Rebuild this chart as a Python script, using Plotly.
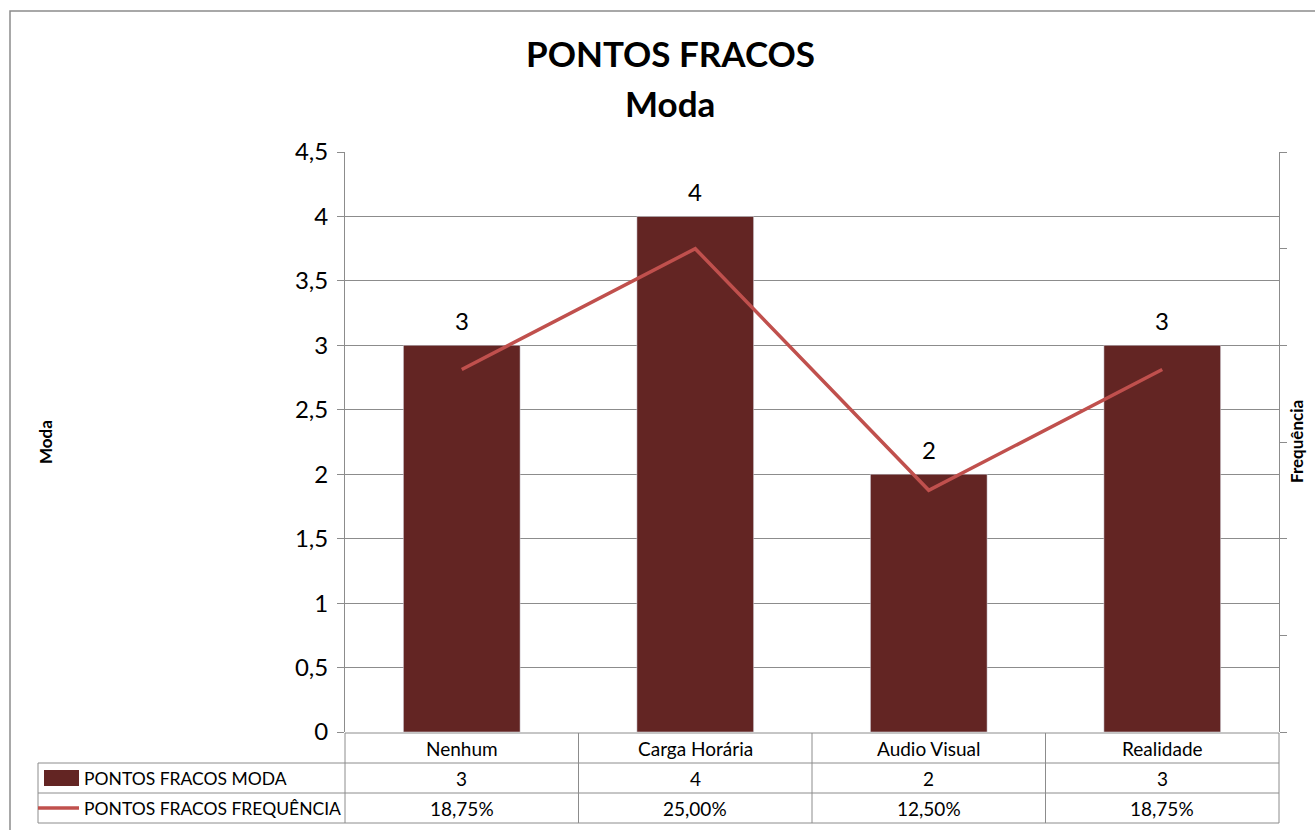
import plotly.graph_objects as go

categories = ["Nenhum", "Carga Horária", "Audio Visual", "Realidade"]
moda = [3, 4, 2, 3]
frequencia = [0.1875, 0.25, 0.125, 0.1875]
freq_labels = ["18,75%", "25,00%", "12,50%", "18,75%"]
series_names = ["PONTOS FRACOS MODA", "PONTOS FRACOS FREQUÊNCIA"]

W, H = 1315, 830
FONT = "Lato"
BAR_C = "#632523"
LINE_C = "#C0504D"
GRID_C = "#8C8C8C"

def px(x):
    return x / W

def py(y):
    return 1 - y / H

X0, X1 = 345, 1279
Y0, Y1 = 152, 732

fig = go.Figure()
fig.add_trace(go.Bar(x=categories, y=moda, marker_color=BAR_C, width=0.5,
                     name=series_names[0], showlegend=False, hoverinfo="skip"))
fig.add_trace(go.Scatter(x=categories, y=frequencia, mode="lines", yaxis="y2",
                         line=dict(color=LINE_C, width=3.5), name=series_names[1],
                         showlegend=False, hoverinfo="skip"))

shapes = []
def line(x0, y0, x1, y1, color=GRID_C, width=1):
    shapes.append(dict(type="line", xref="paper", yref="paper",
                       x0=px(x0), y0=py(y0), x1=px(x1), y1=py(y1),
                       line=dict(color=color, width=width)))

# outer chart border
shapes.append(dict(type="rect", xref="paper", yref="paper", x0=px(10), y0=py(845),
                   x1=px(1330), y1=py(11), line=dict(color="#8C8C8C", width=1.5)))

# data table
ncat = len(categories)
colw = (X1 - X0) / ncat
rows = [733, 763, 793, 823]
line(X0, rows[0], X1, rows[0])
for r in rows[1:]:
    line(38, r, X1, r)
line(38, rows[1], 38, rows[3])
for i in range(ncat + 1):
    xx = X0 + i * colw
    line(xx, rows[0], xx, rows[3])

# legend keys in table
shapes.append(dict(type="rect", xref="paper", yref="paper", x0=px(44), x1=px(79),
                   y0=py(786), y1=py(770), fillcolor=BAR_C, line=dict(width=0)))
line(38, 808, 79, 808, color=LINE_C, width=3.5)

annotations = []
def text(x, y, s, size=19, bold=False, xanchor="center", angle=0):
    annotations.append(dict(xref="paper", yref="paper", x=px(x), y=py(y), text=s,
                            showarrow=False, xanchor=xanchor, yanchor="middle",
                            textangle=angle,
                            font=dict(size=size, family=FONT, color="black",
                                      weight="bold" if bold else "normal")))

for i, c in enumerate(categories):
    cx = X0 + (i + 0.5) * colw
    text(cx, 748, c)
    text(cx, 778, str(moda[i]))
    text(cx, 808, freq_labels[i])
    # bar data labels
    annotations.append(dict(xref="x", yref="y", x=c, y=moda[i], text=str(moda[i]),
                            showarrow=False, yanchor="bottom", yshift=8,
                            font=dict(size=24, family=FONT, color="black")))
text(82, 778, series_names[0], size=17.5, xanchor="left")
text(82, 808, series_names[1], size=17.5, xanchor="left")

text(670, 53, "PONTOS FRACOS", size=35, bold=True)
text(670, 103, "Moda", size=35, bold=True)
text(45, 442, "Moda", size=17, bold=True, angle=-90)
text(1296, 442, "Frequência", size=17, bold=True, angle=-90)

fig.update_layout(
    width=W, height=H, margin=dict(l=0, r=0, t=0, b=0, pad=0, autoexpand=False),
    paper_bgcolor="white", plot_bgcolor="white",
    separators=",.", showlegend=False, bargap=0.5, hovermode=False,
    font=dict(family=FONT, size=16, color="black"),
    xaxis=dict(domain=[px(X0), px(X1)], showticklabels=False, ticks="",
               showline=False, showgrid=False, zeroline=False, automargin=False),
    yaxis=dict(domain=[py(Y1), py(Y0)], range=[0, 4.5], dtick=0.5,
               tickformat=".1~f", showgrid=True, gridcolor=GRID_C, gridwidth=1,
               ticks="outside", ticklen=7, tickcolor=GRID_C, showline=True,
               linecolor=GRID_C, zeroline=False, automargin=False,
               ticklabelstandoff=4,
               tickfont=dict(size=24, family=FONT)),
    yaxis2=dict(overlaying="y", side="right", range=[0, 0.3], dtick=0.05,
                showticklabels=False, showgrid=False, ticks="outside", ticklen=7,
                tickcolor=GRID_C, showline=True, linecolor=GRID_C, zeroline=False,
                automargin=False),
    shapes=shapes, annotations=annotations,
)

fig.write_html("out.html", config={"displayModeBar": False},
               post_script="document.body.style.margin='0';document.body.style.overflow='hidden';")
